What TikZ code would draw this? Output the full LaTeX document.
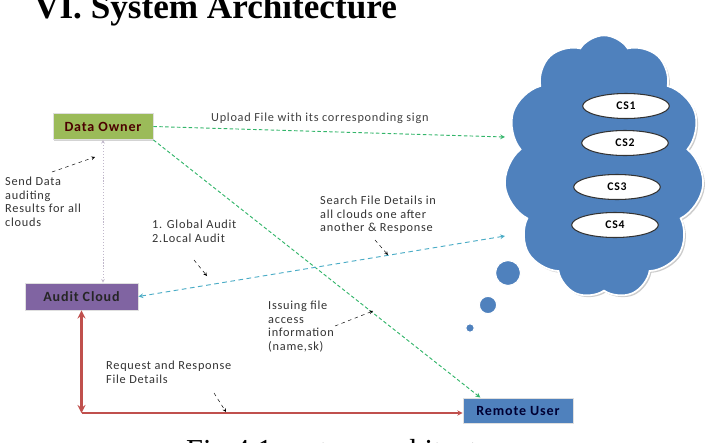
\documentclass[tikz,border=0pt]{standalone}
\usepackage{fontspec}
\setmainfont{Liberation Serif}
\newfontfamily\calibri[LetterSpace=6]{Carlito}
\usetikzlibrary{shapes.geometric,shapes.symbols,shadows}

\definecolor{ownergreen}{HTML}{9BBB59}
\definecolor{auditpurple}{HTML}{8064A2}
\definecolor{userblue}{HTML}{4F81BD}
\definecolor{flowgreen}{HTML}{33B56A}
\definecolor{flowteal}{HTML}{4BACC6}
\definecolor{linkred}{HTML}{C0504D}

\begin{document}
\begin{tikzpicture}[x=0.03cm, y=-0.03cm, >=stealth,
    every node/.style={font=\calibri\fontsize{10.5}{11.5}\selectfont},
    box/.style={draw=white!75!gray, line width=0.8pt, minimum height=0.78cm,
        font=\calibri\fontsize{12}{14}\selectfont\bfseries, text=black!85,
        drop shadow={shadow xshift=1pt, shadow yshift=-1.2pt, opacity=0.35}},
    cs/.style={ellipse, draw=black!80, line width=0.9pt, fill=white, minimum width=2.6cm,
        minimum height=0.75cm, font=\calibri\fontsize{10}{11}\selectfont\bfseries},
    lbl/.style={align=left, text=black!80, inner sep=0pt, anchor=north west},
    pointer/.style={->, black, dashed, thin}]
    \useasboundingbox (0,0) rectangle (715,443);

    % title and caption
    \node[anchor=base west, font=\rmfamily\bfseries\fontsize{30}{36}\selectfont] (title) at (30,18) {VI. System Architecture};
    \node[anchor=base west, font=\rmfamily\fontsize{26}{30}\selectfont] (caption) at (182,460) {Fig 4.1 system architecture};

    % cloud servers
    \node[cloud, cloud puffs=11, cloud puff arc=115, cloud ignores aspect, minimum width=6cm, minimum height=7.9cm,
        fill=userblue, draw=white, line width=1.5pt,
        drop shadow={shadow xshift=1.5pt, shadow yshift=-1.5pt, opacity=0.4}] (CL) at (604,167) {};
    \node[circle, fill=userblue, draw=white, line width=1pt, minimum size=0.75cm, inner sep=0pt] (B1) at (508,273) {};
    \node[circle, fill=userblue, draw=white, line width=1pt, minimum size=0.52cm, inner sep=0pt] (B2) at (488,305) {};
    \node[circle, fill=userblue, draw=white, line width=1pt, minimum size=0.26cm, inner sep=0pt] (B3) at (470,328) {};
    \node[cs] (CS1) at (626,106) {CS1};
    \node[cs] (CS2) at (625,143) {CS2};
    \node[cs] (CS3) at (617,187) {CS3};
    \node[cs] (CS4) at (615,225) {CS4};
    \coordinate (upin) at (505,137);
    \coordinate (searchin) at (505,236);

    % actors
    \node[box, fill=ownergreen, minimum width=3cm, text=black!70!red] (DO) at (103,126.5) {Data Owner};
    \node[box, fill=auditpurple, minimum width=3.39cm, minimum height=0.81cm] (AC) at (81.5,296.5) {Audit Cloud};
    \node[box, fill=userblue, minimum width=3.3cm, minimum height=0.75cm, text=black!80!blue] (RU) at (518,410.5) {Remote User};

    % flows
    \draw[->, flowgreen, thick, dash pattern=on 3pt off 2pt] (DO.east) -- node[above=3pt, text=black!75, xshift=-8pt] {Upload File with its corresponding sign} (upin);
    \draw[->, flowgreen, thick, dash pattern=on 3pt off 2pt] (DO.south east) -- (RU.161);
    \draw[<->, black!25!auditpurple!40, dash pattern=on 1pt off 1.5pt] (DO.south) -- (DO.south |- AC.north);
    \draw[<->, flowteal, thick, dash pattern=on 4pt off 3pt] (searchin) -- (AC.east);
    \coordinate (corner) at (AC.south |- 0,413);
    \draw[<->, linkred, line width=2pt] (AC.south) -- (corner);
    \draw[->, linkred, line width=1pt] (corner) -- (corner -| RU.west);

    % labels
    \node[lbl] (sendlbl) at (5,177) {Send Data\\auditing\\Results for all\\clouds};
    \node[lbl] (auditlbl) at (152,220) {1. Global Audit\\2.Local Audit};
    \node[lbl] (searchlbl) at (320,196) {Search File Details in\\all clouds one after\\another \& Response};
    \node[lbl] (issuelbl) at (268,301) {Issuing file\\access\\information\\(name,sk)};
    \node[lbl] (reqlbl) at (106,361) {Request and Response\\File Details};

    % pointers
    \coordinate (p1) at (52,172);  \coordinate (q1) at (95,157);
    \coordinate (p2) at (194,260); \coordinate (q2) at (207,276);
    \coordinate (p3) at (375,240); \coordinate (q3) at (388,255);
    \coordinate (p4) at (335,326); \coordinate (q4) at (373,311);
    \coordinate (p5) at (214,393); \coordinate (q5) at (226,412);
    \draw[pointer] (p1) -- (q1);
    \draw[pointer] (p2) -- (q2);
    \draw[pointer] (p3) -- (q3);
    \draw[pointer] (p4) -- (q4);
    \draw[pointer] (p5) -- (q5);
\end{tikzpicture}
\end{document}
